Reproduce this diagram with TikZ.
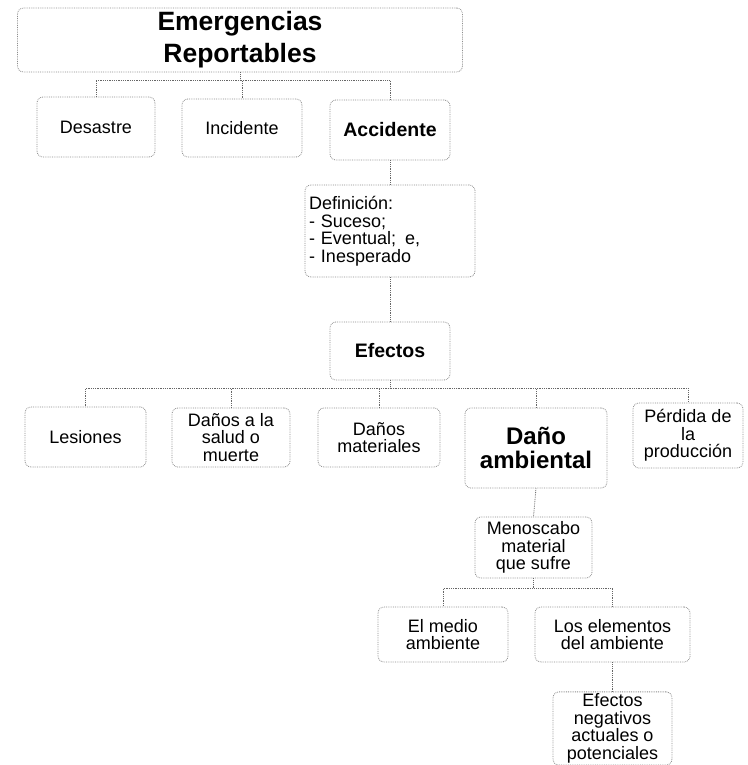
\documentclass[tikz,border=0pt]{standalone}
\usepackage{fontspec}
\setmainfont{Liberation Sans}
\begin{document}
\begin{tikzpicture}[x=1pt,y=1pt,
  box/.style={draw=black!45, densely dotted, line width=0.8pt, rounded corners=6pt, align=center, inner sep=2pt,
     font=\fontsize{18}{17.5}\selectfont},
  bbox/.style={box, font=\fontsize{19.5}{19}\selectfont\bfseries},
  conn/.style={draw=black!60, densely dotted, line width=0.8pt}]
\useasboundingbox (0,0) rectangle (747,-765);
\fill[white] (0,0) rectangle (747,-765);
\node[box, minimum width=445, minimum height=64, font=\fontsize{26.5}{32}\selectfont\bfseries] (top) at (240,-40) {Emergencias\\Reportables};
\node[box, minimum width=118, minimum height=60] (desastre) at (96,-127) {Desastre};
\node[box, minimum width=120, minimum height=58] (incidente) at (242,-128) {Incidente};
\node[bbox, minimum width=120, minimum height=60] (accidente) at (390,-130) {Accidente};
\node[box, minimum width=170, minimum height=92, align=left, text width=162] (definicion) at (390,-231)
  {Definición:\\- Suceso;\\- Eventual;\enspace e,\\- Inesperado};
\node[bbox, minimum width=120, minimum height=58] (efectos) at (390,-351) {Efectos};
\node[box, minimum width=121, minimum height=60] (lesiones) at (85.5,-437) {Lesiones};
\node[box, minimum width=118, minimum height=59] (salud) at (231,-437.5) {Daños a la\\salud o\\muerte};
\node[box, minimum width=122, minimum height=59] (materiales) at (379,-437.5) {Daños\\materiales};
\node[box, minimum width=142, minimum height=80, font=\fontsize{24}{23.5}\selectfont\bfseries] (ambiental) at (536,-448) {Daño\\ambiental};
\node[box, minimum width=110, minimum height=65] (perdida) at (688,-435.5) {Pérdida de\\la\\producción};
\node[box, minimum width=117, minimum height=61] (menoscabo) at (533.5,-547.5) {Menoscabo\\material\\que sufre};
\node[box, minimum width=130, minimum height=55] (medio) at (443,-634.5) {El medio\\ambiente};
\node[box, minimum width=155, minimum height=55] (elementos) at (612.5,-634.5) {Los elementos\\del ambiente};
\node[box, minimum width=119, minimum height=72] (negativos) at (612.5,-728.5) {Efectos\\negativos\\actuales o\\potenciales};

\draw[conn] (top.south) -- ++(0,-8) -| (desastre.north);
\draw[conn] (top.south) -- ++(0,-8) -| (incidente.north);
\draw[conn] (top.south) -- ++(0,-8) -| (accidente.north);
\draw[conn] (accidente.south) -- (definicion.north);
\draw[conn] (definicion.south) -- (efectos.north);
\draw[conn] (efectos.south) -- ++(0,-8) -| (lesiones.north);
\draw[conn] (efectos.south) -- ++(0,-8) -| (salud.north);
\draw[conn] (efectos.south) -- ++(0,-8) -| (materiales.north);
\draw[conn] (efectos.south) -- ++(0,-8) -| (ambiental.north);
\draw[conn] (efectos.south) -- ++(0,-8) -| (perdida.north);
\draw[conn] (ambiental.south) -- (menoscabo.north);
\draw[conn] (menoscabo.south) -- ++(0,-10) -| (medio.north);
\draw[conn] (menoscabo.south) -- ++(0,-10) -| (elementos.north);
\draw[conn] (elementos.south) -- (negativos.north);
\end{tikzpicture}
\end{document}
